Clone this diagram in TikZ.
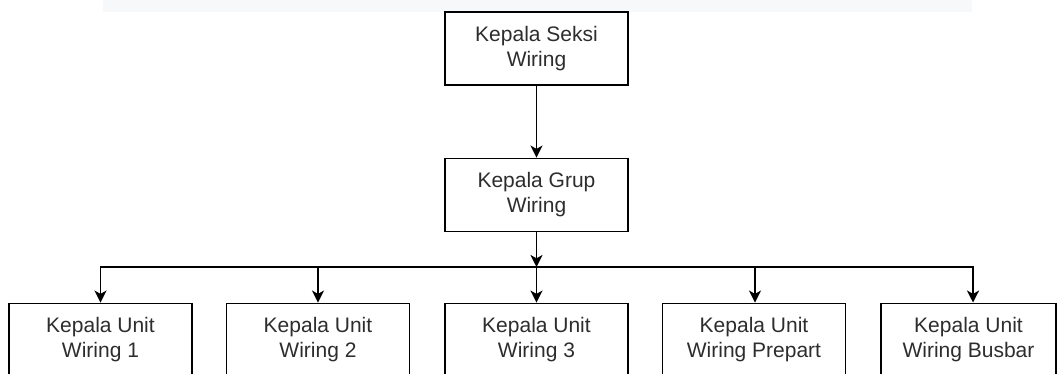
\documentclass[tikz,border=0pt]{standalone}
\usepackage{fontspec}
\setmainfont{Liberation Sans}
\usetikzlibrary{arrows.meta}
\definecolor{boxtext}{RGB}{45,45,45}
\definecolor{band}{RGB}{247,248,250}
\tikzstyle{box}=[draw, line width=1.4pt, minimum width=137.25pt, minimum height=54.75pt, align=center, text=boxtext, font=\fontsize{15.75}{18.75}\selectfont]
\tikzset{link/.style={line width=1.4pt, -{Stealth[length=9pt, width=9pt, inset=2.5pt]}}}

\begin{document}
\begin{tikzpicture}[x=0.75pt, y=-0.75pt]
  \clip (0,0) rectangle (1057,374);
  \useasboundingbox (0,0) rectangle (1057,374);
  \fill[band] (103,0) rectangle (972,12);

  \draw (536.5,48.5) node[box] (KS) {Kepala Seksi\\Wiring};
  \draw (536.5,195) node[box] (KG) {Kepala Grup\\Wiring};

  \draw (100.5,340) node[box] (KU1) {Kepala Unit\\Wiring 1};
  \draw (318,340) node[box] (KU2) {Kepala Unit\\Wiring 2};
  \draw (536.5,340) node[box] (KU3) {Kepala Unit\\Wiring 3};
  \draw (754,340) node[box] (KU4) {Kepala Unit\\Wiring Prepart};
  \draw (968.5,340) node[box, minimum width=131.25pt] (KU5) {Kepala Unit\\Wiring Busbar};

  \coordinate (J) at (536.5,267);

  \draw[link] (KS) -- (KG);
  \draw[link] (KG) -- (J);
  \draw[link] (J) -| (KU1.north);
  \draw[link] (J) -| (KU2.north);
  \draw[link] (J) -- (KU3);
  \draw[link] (J) -| ([xshift=0.75pt]KU4.north);
  \draw[link] (J) -| ([xshift=3.4pt]KU5.north);
\end{tikzpicture}
\end{document}
